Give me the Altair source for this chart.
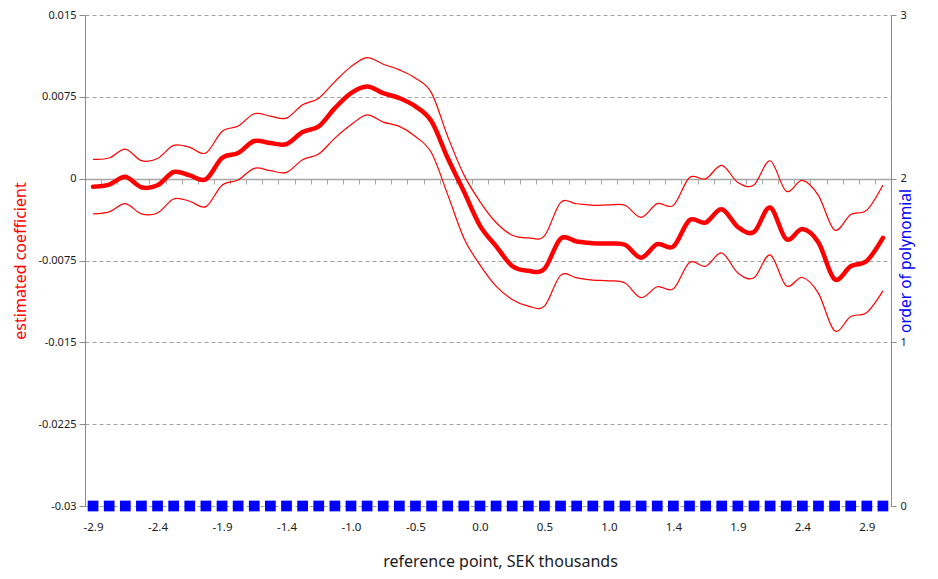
import json
import altair as alt
import pandas as pd

# ---------------- data ----------------
ref_points = [
    "-2.900", "-2.779", "-2.658", "-2.538", "-2.417", "-2.296", "-2.175", "-2.054", "-1.933", "-1.813",
    "-1.692", "-1.571", "-1.450", "-1.329", "-1.208", "-1.088", "-0.967", "-0.846", "-0.725", "-0.604",
    "-0.483", "-0.363", "-0.242", "-0.121", "0.000", "0.121", "0.242", "0.363", "0.483", "0.604",
    "0.725", "0.846", "0.967", "1.088", "1.208", "1.329", "1.450", "1.571", "1.692", "1.813",
    "1.933", "2.054", "2.175", "2.296", "2.417", "2.538", "2.658", "2.779", "2.900", "3.021",
]
labelled_points = ["-2.900", "-2.417", "-1.933", "-1.450", "-0.967", "-0.483", "0.000",
                   "0.483", "0.967", "1.450", "1.933", "2.417", "2.900"]
tick_labels = ["-2.9", "-2.4", "-1.9", "-1.4", "-1.0", "-0.5", "0.0",
               "0.5", "1.0", "1.4", "1.9", "2.4", "2.9"]

coef = [
    -0.00073, -0.00055, 0.00018, -0.00079, -0.00061, 0.00061, 0.00030, -0.00006, 0.00189, 0.00235,
    0.00345, 0.00326, 0.00317, 0.00427, 0.00479, 0.00646, 0.00784, 0.00845, 0.00784, 0.00738,
    0.00662, 0.00524, 0.00189, -0.00116, -0.00430, -0.00619, -0.00800, -0.00845, -0.00826, -0.00550,
    -0.00576, -0.00591, -0.00595, -0.00606, -0.00724, -0.00600, -0.00622, -0.00380, -0.00402, -0.00280,
    -0.00443, -0.00489, -0.00264, -0.00555, -0.00462, -0.00585, -0.00921, -0.00803, -0.00753, -0.00543,
]
upper = [
    0.00177, 0.00189, 0.00271, 0.00165, 0.00185, 0.00305, 0.00287, 0.00235, 0.00433, 0.00482,
    0.00595, 0.00573, 0.00555, 0.00677, 0.00738, 0.00890, 0.01027, 0.01110, 0.01049, 0.00997,
    0.00921, 0.00784, 0.00387, 0.00037, -0.00210, -0.00402, -0.00518, -0.00542, -0.00524, -0.00220,
    -0.00230, -0.00244, -0.00241, -0.00244, -0.00354, -0.00229, -0.00245, 0.00010, -0.00002, 0.00122,
    -0.00035, -0.00058, 0.00164, -0.00115, -0.00016, -0.00155, -0.00470, -0.00328, -0.00288, -0.00058,
]
lower = [
    -0.00323, -0.00305, -0.00229, -0.00323, -0.00314, -0.00186, -0.00207, -0.00256, -0.00061, -0.00012,
    0.00095, 0.00073, 0.00058, 0.00174, 0.00226, 0.00372, 0.00494, 0.00585, 0.00518, 0.00479,
    0.00387, 0.00235, -0.00146, -0.00543, -0.00790, -0.00985, -0.01107, -0.01168, -0.01168, -0.00886,
    -0.00909, -0.00930, -0.00936, -0.00957, -0.01091, -0.00991, -0.01009, -0.00768, -0.00803, -0.00681,
    -0.00864, -0.00909, -0.00698, -0.00982, -0.00906, -0.01051, -0.01394, -0.01264, -0.01226, -0.01028,
]
order = [
    0, 0, 0, 0, 0, 0, 0, 0, 0, 0,
    0, 0, 0, 0, 0, 0, 0, 0, 0, 0,
    0, 0, 0, 0, 0, 0, 0, 0, 0, 0,
    0, 0, 0, 0, 0, 0, 0, 0, 0, 0,
    0, 0, 0, 0, 0, 0, 0, 0, 0, 0,
]
left_ticks = [0.015, 0.0075, 0, -0.0075, -0.015, -0.0225, -0.03]
right_ticks = [0, 1, 2, 3]

df = pd.DataFrame({"ref": ref_points, "coef": coef, "upper": upper,
                   "lower": lower, "order": order})

FONT = "Noto Sans"
W, H = 806, 491

shown = json.dumps(labelled_points).replace('"', "'")
labs = json.dumps(tick_labels).replace('"', "'")
x_label_expr = (f"indexof({shown}, datum.value) >= 0 ? "
                f"{labs}[indexof({shown}, datum.value)] : ''")

x_enc = alt.X(
    "ref:N", sort=None, bandPosition=0.5,
    scale=alt.Scale(type="band", paddingInner=0, paddingOuter=0),
    axis=alt.Axis(
        orient="bottom", offset=-327, title="reference point, SEK thousands",
        tickBand="extent", labelAngle=0, labelExpr=x_label_expr, labelFontSize=11.5,
        domainColor="#a6a6a6", domainWidth=1.5, tickColor="#a6a6a6", tickSize=5,
        labelPadding=337, titleY=374, titleX=415, grid=False,
    ),
)

left_axis = alt.Axis(
    values=left_ticks, labelExpr="toString(datum.value)", title="estimated coefficient",
    titleColor="#ff0000", grid=True, gridDash=[4, 3], gridColor="#a0a0a0",
    domainColor="#8c8c8c", tickColor="#8c8c8c", tickSize=6, labelPadding=3, titlePadding=10,
)
yscale = alt.Scale(domain=[-0.03, 0.015], nice=False, zero=False)

base = alt.Chart(df)
thin_upper = base.mark_line(color="#ff0000", strokeWidth=1.2, interpolate="cardinal").encode(
    x=x_enc, y=alt.Y("upper:Q", scale=yscale, axis=left_axis))
thin_lower = base.mark_line(color="#ff0000", strokeWidth=1.2, interpolate="cardinal").encode(
    x=x_enc, y=alt.Y("lower:Q", scale=yscale, axis=left_axis))
thick = base.mark_line(color="#ff0000", strokeWidth=4.5, interpolate="cardinal",
                       strokeCap="round").encode(
    x=x_enc, y=alt.Y("coef:Q", scale=yscale, axis=left_axis))

lines = alt.layer(thin_upper, thin_lower, thick)

squares = base.mark_square(color="#0000ff", size=115, opacity=1).encode(
    x=x_enc,
    y=alt.Y("order:Q", scale=alt.Scale(domain=[0, 3], nice=False),
            axis=alt.Axis(orient="right", values=right_ticks, grid=False,
                          title="order of polynomial", titleColor="#0000ff", titleAngle=270,
                          titleFontSize=15.5,
                          domainColor="#8c8c8c", tickColor="#8c8c8c", tickSize=5,
                          labelPadding=4, titlePadding=7)),
)

chart = alt.layer(lines, squares).resolve_scale(y="independent").properties(
    width=W, height=H,
    background="white",
    autosize=alt.AutoSizeParams(type="none"),
    padding={"left": 77, "top": 7, "right": 39, "bottom": 64},
).configure_view(stroke=None).configure_axis(
    labelFont=FONT, labelFontSize=11, labelColor="#1a1a1a",
    titleFont=FONT, titleFontSize=16, titleFontWeight="normal", titleColor="#1a1a1a",
)

chart.save("out.html", embed_options={"renderer": "svg", "actions": False})
